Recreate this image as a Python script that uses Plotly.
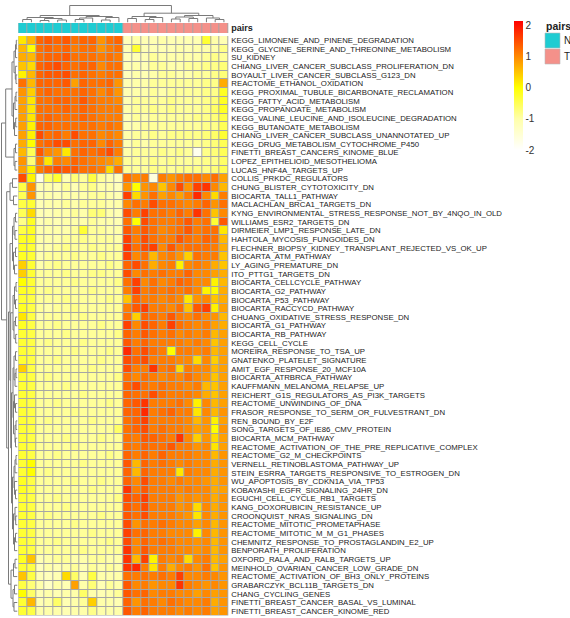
import plotly.graph_objects as go

W, H = 570, 618

pathways = [
    "KEGG_LIMONENE_AND_PINENE_DEGRADATION",
    "KEGG_GLYCINE_SERINE_AND_THREONINE_METABOLISM",
    "SU_KIDNEY",
    "CHIANG_LIVER_CANCER_SUBCLASS_PROLIFERATION_DN",
    "BOYAULT_LIVER_CANCER_SUBCLASS_G123_DN",
    "REACTOME_ETHANOL_OXIDATION",
    "KEGG_PROXIMAL_TUBULE_BICARBONATE_RECLAMATION",
    "KEGG_FATTY_ACID_METABOLISM",
    "KEGG_PROPANOATE_METABOLISM",
    "KEGG_VALINE_LEUCINE_AND_ISOLEUCINE_DEGRADATION",
    "KEGG_BUTANOATE_METABOLISM",
    "CHIANG_LIVER_CANCER_SUBCLASS_UNANNOTATED_UP",
    "KEGG_DRUG_METABOLISM_CYTOCHROME_P450",
    "FINETTI_BREAST_CANCERS_KINOME_BLUE",
    "LOPEZ_EPITHELIOID_MESOTHELIOMA",
    "LUCAS_HNF4A_TARGETS_UP",
    "COLLIS_PRKDC_REGULATORS",
    "CHUNG_BLISTER_CYTOTOXICITY_DN",
    "BIOCARTA_TALL1_PATHWAY",
    "MACLACHLAN_BRCA1_TARGETS_DN",
    "KYNG_ENVIRONMENTAL_STRESS_RESPONSE_NOT_BY_4NQO_IN_OLD",
    "WILLIAMS_ESR2_TARGETS_DN",
    "DIRMEIER_LMP1_RESPONSE_LATE_DN",
    "HAHTOLA_MYCOSIS_FUNGOIDES_DN",
    "FLECHNER_BIOPSY_KIDNEY_TRANSPLANT_REJECTED_VS_OK_UP",
    "BIOCARTA_ATM_PATHWAY",
    "LY_AGING_PREMATURE_DN",
    "ITO_PTTG1_TARGETS_DN",
    "BIOCARTA_CELLCYCLE_PATHWAY",
    "BIOCARTA_G2_PATHWAY",
    "BIOCARTA_P53_PATHWAY",
    "BIOCARTA_RACCYCD_PATHWAY",
    "CHUANG_OXIDATIVE_STRESS_RESPONSE_DN",
    "BIOCARTA_G1_PATHWAY",
    "BIOCARTA_RB_PATHWAY",
    "KEGG_CELL_CYCLE",
    "MOREIRA_RESPONSE_TO_TSA_UP",
    "GNATENKO_PLATELET_SIGNATURE",
    "AMIT_EGF_RESPONSE_20_MCF10A",
    "BIOCARTA_ATRBRCA_PATHWAY",
    "KAUFFMANN_MELANOMA_RELAPSE_UP",
    "REICHERT_G1S_REGULATORS_AS_PI3K_TARGETS",
    "REACTOME_UNWINDING_OF_DNA",
    "FRASOR_RESPONSE_TO_SERM_OR_FULVESTRANT_DN",
    "REN_BOUND_BY_E2F",
    "SONG_TARGETS_OF_IE86_CMV_PROTEIN",
    "BIOCARTA_MCM_PATHWAY",
    "REACTOME_ACTIVATION_OF_THE_PRE_REPLICATIVE_COMPLEX",
    "REACTOME_G2_M_CHECKPOINTS",
    "VERNELL_RETINOBLASTOMA_PATHWAY_UP",
    "STEIN_ESRRA_TARGETS_RESPONSIVE_TO_ESTROGEN_DN",
    "WU_APOPTOSIS_BY_CDKN1A_VIA_TP53",
    "KOBAYASHI_EGFR_SIGNALING_24HR_DN",
    "EGUCHI_CELL_CYCLE_RB1_TARGETS",
    "KANG_DOXORUBICIN_RESISTANCE_UP",
    "CROONQUIST_NRAS_SIGNALING_DN",
    "REACTOME_MITOTIC_PROMETAPHASE",
    "REACTOME_MITOTIC_M_M_G1_PHASES",
    "CHEMNITZ_RESPONSE_TO_PROSTAGLANDIN_E2_UP",
    "BENPORATH_PROLIFERATION",
    "OXFORD_RALA_AND_RALB_TARGETS_UP",
    "MEINHOLD_OVARIAN_CANCER_LOW_GRADE_DN",
    "REACTOME_ACTIVATION_OF_BH3_ONLY_PROTEINS",
    "GRABARCZYK_BCL11B_TARGETS_DN",
    "CHANG_CYCLING_GENES",
    "FINETTI_BREAST_CANCER_BASAL_VS_LUMINAL",
    "FINETTI_BREAST_CANCER_KINOME_RED",
]

samples = ["N%d" % i for i in range(1, 13)] + ["T%d" % i for i in range(1, 13)]
pairs = ["N"] * 12 + ["T"] * 12
pair_colors = {"N": "#1fccd2", "T": "#f4918a"}

# row-scaled scores, N samples (12 columns)
expr_N = [
    [0.2, 0.6, 1.3, 1.4, 1.3, 1.4, 1.2, 1.3, 1.3, 0.9, 1.2, 1.3],
    [0.6, 0.0, 1.2, 1.3, 1.2, 1.3, 1.1, 1.2, 1.2, 0.9, 1.1, 1.2],
    [0.7, 0.6, 1.2, 1.3, 1.3, 1.4, 1.2, 1.2, 1.2, 1.1, 1.2, 1.1],
    [0.5, 0.3, 1.3, 1.4, 1.5, 1.3, 1.2, 1.3, 1.3, 1.0, 1.2, 1.2],
    [0.1, 0.6, 1.3, 1.4, 1.4, 1.5, 1.2, 1.3, 1.2, 1.1, 1.2, 1.2],
    [1.2, 0.6, 1.3, 1.3, 1.3, 1.4, 0.8, 1.3, 1.2, 1.2, 1.3, 0.9],
    [0.9, 0.4, 1.2, 1.3, 1.2, 1.2, 1.2, 1.3, 1.2, 1.0, 1.2, 0.9],
    [0.8, 0.2, 1.2, 1.2, 1.3, 1.3, 1.2, 1.4, 1.2, 1.1, 1.1, 1.0],
    [0.8, 0.2, 1.2, 1.2, 1.2, 1.3, 1.2, 1.3, 1.2, 1.1, 1.1, 1.1],
    [0.8, 0.2, 1.2, 1.3, 1.2, 1.2, 1.2, 1.3, 1.2, 1.1, 1.1, 1.1],
    [0.8, 0.1, 1.3, 1.3, 1.2, 1.2, 1.2, 1.2, 1.2, 1.1, 1.2, 1.1],
    [0.8, 0.1, 1.5, 1.2, 1.3, 1.1, 1.5, 1.2, 1.2, 1.0, 1.1, 1.0],
    [0.7, 0.0, 1.2, 1.3, 1.5, 1.5, 1.2, 1.3, 1.3, 1.0, 1.3, 1.1],
    [0.6, -0.5, 1.4, 1.0, 0.9, 0.2, 1.2, 1.3, 1.2, 1.3, 1.5, 1.1],
    [0.9, -0.7, 1.1, 0.2, 1.1, 1.0, 1.3, 1.2, 1.1, 1.0, 0.9, 0.7],
    [0.8, 0.1, 1.1, 1.3, 1.5, 1.4, 1.4, 1.2, 1.2, 1.1, 0.3, 1.2],
    [1.5, 0.1, -1.7, -0.6, -0.3, -1.1, -0.7, -0.9, -0.4, -0.9, -1.0, -1.2],
    [-0.4, 0.9, -1.1, -1.0, -1.1, -0.9, -1.1, -0.9, -0.8, -1.0, -1.0, -1.2],
    [-0.5, 0.9, -1.1, -1.0, -1.1, -1.0, -1.0, -1.0, -0.9, -0.9, -1.0, -1.1],
    [-0.4, -0.3, -1.1, -1.0, -1.0, -0.9, -1.0, -0.9, -0.9, -0.9, -1.0, -1.0],
    [-0.5, 0.3, -1.1, -1.1, -1.0, -1.0, -0.9, -1.0, -0.7, -0.7, -1.0, -1.1],
    [-0.8, -0.2, -1.1, -1.0, -1.1, -1.0, -1.0, -1.0, -0.9, -1.0, -1.0, -1.1],
    [-0.4, -0.2, -1.0, -1.0, -1.0, -1.0, -0.9, -0.3, -0.9, -0.9, -1.0, -1.0],
    [-0.2, -0.2, -1.0, -1.0, -1.0, -0.9, -0.9, -0.8, -0.9, -0.9, -0.9, -1.0],
    [-0.2, -0.3, -1.0, -1.0, -0.9, -0.8, -0.9, -0.9, -0.8, -0.9, -0.9, -0.9],
    [-0.2, -0.3, -1.0, -0.9, -0.9, -0.9, -0.8, -0.9, -0.9, -0.8, -0.9, -0.9],
    [0.4, -0.3, -1.0, -0.9, -0.8, -0.9, -0.9, -0.9, -0.9, -0.9, -0.8, -0.9],
    [0.4, -0.3, -0.9, -0.9, -0.9, -0.8, -0.9, -0.9, -0.8, -0.8, -0.9, -0.9],
    [0.0, -0.3, -0.9, -0.9, -0.9, -0.9, -0.8, -0.9, -0.9, -0.9, -0.9, -0.8],
    [-0.2, -0.3, -0.9, -0.8, -0.9, -0.9, -0.9, -0.9, -0.8, -0.9, -0.9, -0.9],
    [-0.3, -0.4, -0.9, -0.9, -0.9, -0.8, -0.9, -0.9, -0.9, -0.9, -0.8, -0.9],
    [-0.2, -0.4, -0.9, -1.0, -0.9, -0.9, -0.8, -0.9, -0.9, -0.9, -0.9, -0.9],
    [0.2, -0.4, -1.0, -0.9, -0.9, -0.9, -0.9, -0.8, -0.9, -0.9, -0.9, -0.9],
    [-0.2, -0.4, -0.9, -0.9, -0.8, -0.9, -0.9, -0.9, -0.9, -0.8, -0.9, -0.9],
    [-0.3, -0.4, -0.9, -0.9, -0.9, -0.8, -0.9, -0.9, -0.9, -0.9, -0.9, -0.8],
    [-0.3, -0.4, -0.9, -0.8, -0.9, -0.9, -0.9, -0.8, -0.9, -0.9, -0.9, -0.9],
    [-0.3, -0.4, -0.9, -0.9, -0.9, -0.9, -0.8, -0.9, -0.9, -0.9, -0.8, -0.9],
    [-0.3, -0.4, -0.9, -0.9, -0.8, -0.9, -0.9, -0.9, -0.9, -0.8, -0.9, -0.9],
    [0.4, -0.4, -0.9, -0.9, -0.9, -0.9, -0.9, -0.9, -0.8, -0.9, -0.9, -0.9],
    [-0.3, -0.4, -0.9, -0.8, -0.9, -0.9, -0.9, -0.9, -0.9, -0.9, -0.9, -0.8],
    [-0.3, -0.4, -0.9, -0.9, -0.9, -0.8, -0.9, -0.9, -0.9, -0.9, -0.9, -0.9],
    [-0.3, -0.4, -0.9, -0.9, -0.9, -0.9, -0.9, -0.8, -0.9, -0.9, -0.9, -0.9],
    [-0.3, -0.4, -0.9, -0.9, -0.8, -0.9, -0.9, -0.9, -0.9, -0.9, -0.8, -0.9],
    [-0.3, -0.4, -0.9, -0.9, -0.9, -0.9, -0.8, -0.9, -0.9, -0.9, -0.9, -0.9],
    [-0.3, -0.4, -0.9, -0.8, -0.9, -0.9, -0.9, -0.9, -0.8, -0.9, -0.9, -0.9],
    [-0.3, -0.4, -0.9, -0.9, -0.9, -0.9, -0.9, -0.9, -0.9, -0.9, -0.9, -0.6],
    [-0.3, -0.4, -0.9, -0.9, -0.9, -0.8, -0.9, -0.9, -0.9, -0.8, -0.9, -0.9],
    [-0.3, -0.4, -0.9, -0.9, -0.9, -0.9, -0.8, -0.9, -0.9, -0.9, -0.9, -0.9],
    [-0.3, -0.4, -0.9, -0.9, -0.8, -0.9, -0.9, -0.9, -0.9, -0.9, -0.8, -0.9],
    [-0.3, 0.0, -0.9, -0.9, -0.9, -0.9, -0.9, -0.8, -0.9, -0.9, -0.9, -0.9],
    [-0.3, 0.0, -0.9, -0.8, -0.9, -0.9, -0.9, -0.9, -0.9, -0.9, -0.9, -0.9],
    [-0.2, -0.4, -0.9, -0.9, -0.9, -0.9, -0.8, -0.9, -0.9, -0.8, -0.9, -0.9],
    [-0.2, -0.4, -0.9, -0.9, -0.9, -0.9, -0.9, -0.9, -0.8, -0.9, -0.9, -0.9],
    [-0.3, -0.4, -0.9, -0.9, -0.8, -0.9, -0.9, -0.9, -0.9, -0.9, -0.9, -0.8],
    [-0.3, -0.4, -0.9, -0.9, -0.9, -0.8, -0.9, -0.9, -0.9, -0.9, -0.9, -0.9],
    [-0.3, -0.4, -0.9, -0.8, -0.9, -0.9, -0.9, -0.9, -0.9, -0.8, -0.9, -0.9],
    [-0.3, -0.4, -0.9, -0.9, -0.9, -0.9, -0.8, -0.9, -0.9, -0.9, -0.9, -0.9],
    [-0.3, -0.4, -0.9, -0.9, -0.9, -0.9, -0.9, -0.9, -0.8, -0.9, -0.9, -0.9],
    [-0.3, -0.4, -0.9, -0.9, -0.8, -0.9, -0.9, -0.9, -0.9, -0.9, -0.8, -0.9],
    [-0.3, -0.4, -0.9, -0.9, -0.9, -0.9, -0.9, -0.8, -0.9, -0.9, -0.9, -0.9],
    [-0.2, 0.5, -1.1, -1.0, -0.9, -0.9, -1.0, -1.0, -0.9, -0.9, -1.0, -1.0],
    [-0.3, -0.4, -1.2, -1.0, -1.1, -1.0, -0.9, -1.1, -0.9, -1.0, -0.9, -1.0],
    [0.5, -0.4, -1.1, -1.2, -1.1, 0.3, -0.6, -1.1, -0.4, -1.0, -1.0, -1.0],
    [-0.4, -0.7, -1.0, -1.3, -1.0, -1.1, 0.8, -1.0, -0.7, -1.1, -0.9, -1.0],
    [0.0, -0.6, -1.1, -1.0, -1.1, -1.0, -1.0, -0.6, -1.0, -1.1, -1.0, -0.9],
    [-0.3, 0.6, -1.1, -1.0, -0.6, -1.1, -1.0, -0.9, 0.4, -1.0, -1.0, -1.1],
    [-0.3, -0.4, -1.0, -1.0, -1.0, -1.1, -1.0, -1.0, -0.8, -1.0, -1.0, -1.0],
]

# row-scaled scores, T samples (12 columns)
expr_T = [
    [-1.2, -1.0, -1.1, -1.1, -1.0, -1.1, -1.1, -1.1, -1.1, -0.3, -1.0, -1.1],
    [-1.1, -0.3, -1.1, -1.1, -1.1, -1.1, -1.0, -1.1, -1.0, -1.0, -1.0, -0.8],
    [-1.2, -1.1, -1.1, -0.9, -1.0, -1.0, -1.0, -1.0, -1.0, -0.9, -0.8, -0.9],
    [-1.1, -1.0, -1.1, -0.9, -0.9, -1.0, -1.0, -0.9, -0.9, -0.8, -0.8, -0.7],
    [-1.2, -1.0, -1.1, -1.0, -0.9, -0.9, -1.0, -1.0, -0.9, -0.9, -0.8, -0.7],
    [-1.1, -1.0, -1.0, -0.9, -0.9, -0.9, -0.9, -0.9, -0.9, -0.8, -0.8, 0.7],
    [-1.1, -1.0, -1.0, -0.9, -1.0, -0.9, -0.9, -0.9, -0.9, -0.8, -0.8, -0.2],
    [-1.1, -0.9, -0.9, -0.9, -0.9, -0.8, -0.9, -0.9, -0.9, -0.8, -0.7, -0.2],
    [-1.0, -0.9, -0.9, -0.8, -0.9, -0.8, -0.9, -0.9, -0.9, -0.8, -0.6, -0.2],
    [-1.1, -0.9, -1.0, -0.9, -0.9, -0.9, -0.9, -0.9, -0.8, -0.8, -0.7, -0.4],
    [-1.1, -1.0, -0.9, -0.9, -0.9, -0.9, -0.9, -0.9, -0.9, -0.8, -0.8, -0.5],
    [-1.0, -0.9, -0.9, -0.8, -0.9, -0.8, -0.8, -0.8, -0.8, -0.7, -0.6, -0.3],
    [-1.1, -0.9, -1.0, -0.9, -0.9, -0.9, -0.9, -0.9, -0.9, -0.8, -0.7, -0.5],
    [-1.0, -0.9, -0.9, -0.9, -0.8, -0.9, -0.8, -0.9, -1.8, -0.8, -0.7, -0.5],
    [-0.9, -0.9, -0.9, -0.8, -0.9, -0.8, -0.9, -0.9, -0.9, -0.8, -0.8, -0.6],
    [-0.9, -0.9, -0.9, -0.8, -0.8, -0.9, -0.8, -0.8, -0.8, -0.8, -0.7, -0.5],
    [1.2, 1.0, 1.1, -1.6, 1.1, 0.9, 1.1, 1.2, 1.2, 1.0, 1.2, 0.8],
    [0.9, 0.0, 0.9, 1.0, 0.5, 1.0, 1.5, 0.9, 1.6, 1.7, 1.0, 0.6],
    [1.6, 0.3, 0.9, 1.2, 0.8, 1.0, 0.8, 1.1, 1.8, 1.0, 0.3, 1.1],
    [1.0, 1.2, 1.1, 1.5, 1.2, 1.2, 1.1, 1.0, 1.1, 1.3, 0.9, 1.2],
    [1.5, 1.1, 1.6, 1.2, 1.2, 1.1, 1.3, 1.1, 1.7, 1.2, 0.5, 1.0],
    [1.2, 0.0, 1.5, 1.2, 1.1, 1.1, 1.2, 1.4, 1.1, 1.2, -0.3, 1.4],
    [1.4, 1.1, 1.4, 1.2, 1.0, 1.1, 1.2, 1.4, 1.1, 1.2, 1.2, 0.2],
    [1.6, 1.1, 1.5, 1.2, 1.1, 1.1, 1.4, 1.2, 1.1, 1.3, 1.2, 0.6],
    [1.7, 1.2, 1.5, 1.6, 1.0, 1.4, 1.1, 1.2, 1.2, 1.2, 1.1, 0.7],
    [1.6, 1.0, 1.2, 0.6, 1.0, 1.1, 0.9, 0.4, 1.2, 1.1, 1.1, 0.5],
    [1.3, 1.5, 1.2, 0.7, 1.0, 1.1, 0.1, 1.0, 1.1, 1.0, 0.7, 0.5],
    [1.5, 1.0, 1.2, 1.1, 1.2, 1.1, 1.1, 1.3, 1.0, 1.0, 0.8, 0.7],
    [1.2, 1.6, 1.0, 1.2, 1.0, 1.1, 1.3, 1.2, 1.0, 1.0, 0.1, 0.6],
    [1.1, 1.6, 1.1, 1.2, 1.1, 1.2, 1.1, 1.2, 1.0, 0.1, 0.0, 0.7],
    [0.5, 1.3, 1.1, 1.1, 1.0, 1.1, 1.0, 0.2, 0.9, 1.0, 0.5, 0.7],
    [1.1, 1.4, 1.6, 1.1, 1.1, 1.0, 1.2, 0.5, 1.4, 1.6, 0.1, 0.8],
    [1.2, 0.4, 1.3, 1.2, 1.1, 1.4, 1.1, 1.0, 1.2, 1.0, 0.9, 0.6],
    [1.6, 1.0, 1.5, 1.3, 1.1, 1.6, 1.2, 1.1, 1.0, 1.1, 0.8, 0.7],
    [1.3, 1.1, 1.4, 1.2, 1.1, 1.2, 1.0, 1.1, 1.0, 1.1, 0.6, 0.8],
    [1.4, 1.1, 1.3, 1.1, 1.1, 1.1, 1.1, 1.0, 1.1, 1.0, 0.5, 0.8],
    [1.8, 1.2, 1.5, 1.2, 1.1, 0.0, 1.1, 1.1, 1.0, 1.1, 0.6, 0.8],
    [1.5, 1.3, 1.5, 1.1, 1.1, 1.1, 1.0, 1.0, 0.3, 1.0, 0.4, 0.8],
    [1.5, 1.1, 1.1, 1.7, 1.1, 1.2, 0.3, 1.1, 1.0, 1.0, 0.6, 0.8],
    [1.2, 1.0, 1.2, 1.1, 1.0, 1.1, 1.0, 1.2, 1.0, 0.9, 0.5, 0.8],
    [1.3, 1.5, 1.2, 1.1, 1.2, 1.1, 1.1, 1.0, 1.1, 0.6, 0.5, 0.8],
    [1.3, 1.2, 1.2, 1.5, 1.2, 1.1, 1.1, 1.1, 1.0, 0.7, 0.5, 0.8],
    [1.3, 1.4, 1.7, 1.1, 1.1, 1.1, 1.2, 1.0, 0.1, 1.0, 0.6, 0.8],
    [1.3, 1.3, 1.8, 1.1, 1.2, 1.3, 1.1, 1.1, 0.2, 1.0, 0.6, 0.9],
    [1.2, 1.3, 1.6, 1.1, 1.1, 1.1, 1.1, 1.0, 0.6, 0.9, 0.1, 0.8],
    [1.2, 1.3, 1.5, 1.1, 1.2, 1.1, 1.1, 1.0, 0.8, 0.9, 0.0, 0.9],
    [1.2, 1.1, 1.4, 1.3, 1.2, 1.1, 1.7, 1.0, 0.4, 0.9, 0.3, 0.8],
    [1.2, 1.1, 1.3, 1.2, 1.2, 1.4, 1.1, 1.1, 0.9, 1.0, 0.2, 0.8],
    [1.3, 1.1, 1.3, 1.1, 1.3, 1.1, 1.1, 1.1, 1.0, 1.0, 0.6, 0.9],
    [1.4, 0.6, 1.3, 1.1, 1.2, 1.1, 1.0, 1.1, 1.0, 1.0, 0.7, 0.9],
    [1.3, 0.6, 1.3, 1.1, 1.1, 1.1, 0.2, 1.1, 1.0, 1.0, 0.7, 0.9],
    [1.3, 1.0, 1.5, 1.1, 1.1, 1.0, 1.1, 1.0, 1.0, 0.9, 0.7, 0.9],
    [1.7, 1.1, 1.4, 1.1, 1.1, 1.1, 1.0, 1.1, 1.0, 1.0, 0.7, 0.8],
    [1.5, 1.3, 1.6, 1.1, 1.1, 1.1, 0.9, 1.0, 0.9, 1.0, 0.7, 0.9],
    [1.4, 1.2, 1.5, 1.1, 1.1, 1.1, 0.9, 1.0, 0.3, 1.0, 0.7, 0.9],
    [1.4, 1.2, 1.5, 1.1, 1.1, 1.1, 1.0, 0.9, 0.2, 1.0, 0.7, 0.9],
    [1.5, 0.9, 1.2, 1.1, 1.2, 1.1, 1.0, 1.0, 0.8, 1.0, 0.6, 0.9],
    [1.6, 1.2, 1.3, 1.1, 1.1, 1.0, 1.0, 1.0, 0.1, 1.0, 0.6, 0.9],
    [1.5, 1.0, 1.3, 1.1, 1.2, 1.1, 1.0, 1.0, 0.9, 1.0, 0.6, 0.9],
    [1.7, 1.0, 1.4, 1.1, 1.1, 1.1, 1.0, 1.0, 0.9, 1.0, 0.6, 0.9],
    [1.7, 0.6, 1.6, 0.1, 1.1, 1.0, 1.1, 0.3, 1.0, 1.1, 0.6, 0.8],
    [1.7, 1.8, 1.1, 0.2, 1.1, 0.7, 1.0, 1.1, 0.9, 1.2, 0.5, 0.9],
    [1.2, 1.1, 1.2, 1.1, 1.2, 1.1, 1.6, 1.0, 1.0, 1.1, 1.0, 0.9],
    [1.4, 1.0, 1.1, 0.9, 1.0, 1.0, 1.7, 1.1, 1.0, 0.9, 1.0, 0.9],
    [1.4, 1.2, 1.3, 1.0, 1.1, 1.1, 1.0, 1.0, 0.8, 1.0, 0.8, 0.9],
    [1.3, 0.9, 1.2, 1.1, 1.0, 1.2, 1.1, 1.0, 1.0, 1.1, 0.7, 0.9],
    [1.4, 1.1, 1.3, 1.1, 1.1, 1.1, 1.0, 1.1, 1.0, 1.1, 0.8, 0.9],
]

# dendrogram structures: leaf = index, node = (merge height, left, right)
col_tree = (17.0,
            (7.0,
             (5.0, (3.0, 0, 1), (4.0, (2.0, 2, 3), (2.5, 4, 5))),
             (6.0, (4.5, (3.0, 6, 7), 8), (5.0, (2.5, 9, 10), 11))),
            (9.3,
             (6.0, (4.0, 12, 13), (5.0, (3.0, 14, 15), 16)),
             (7.0, (5.5, (3.5, 17, 18), (4.0, 19, 20)), (4.5, 21, (3.0, 22, 23)))))

row_tree = (16.0,
            (11.8,
             (5.5,
              (3.5, (2.0, (1.2, 0, 1), 2), (2.2, 3, (1.5, 4, 5))),
              (4.0, (2.5, (1.5, 6, 7), 8), (3.0, (1.8, 9, 10), 11))),
             (3.5, (2.0, 12, 13), (2.5, 14, 15))),
            (10.8,
             (7.5, (5.0, 16, 17), (4.0, 18, 19)),
             (9.0,
              (7.5,
               (5.0, (3.5, (2.0, 20, 21), (2.5, 22, 23)), (4.0, (2.0, 24, 25), (3.0, 26, 27))),
               (6.8,
                (4.5, (3.0, (1.5, 28, 29), (2.0, 30, 31)), (3.5, (2.0, 32, 33), (1.8, 34, 35))),
                (6.0,
                 (4.5, (3.5, (2.0, 36, 37), (2.5, (1.5, 38, 39), 40)),
                  (4.0, (3.0, 41, (2.0, 42, 43)), (2.5, (1.5, 44, 45), (2.0, 46, 47)))),
                 (5.0, (3.5, (2.5, (1.5, 48, 49), 50), (3.0, 51, (2.0, 52, 53))),
                  (4.0, (2.5, 54, (1.8, 55, 56)), (3.0, (2.0, 57, 58), 59)))))),
              (6.5, (4.0, (2.5, 60, 61), 62), (4.5, (3.0, 63, 64), (3.5, 65, 66))))))


def dendro_segments(node):
    xs, hs = [], []

    def rec(n):
        if isinstance(n, int):
            return float(n), 0.0
        h, a, b = n
        pa, ha = rec(a)
        pb, hb = rec(b)
        xs.extend([pa, pa, pb, pb, None])
        hs.extend([ha, h, h, hb, None])
        return (pa + pb) / 2.0, h

    rec(node)
    return xs, hs


def px_x(p):
    return p / W


def px_y(p):
    return 1 - p / H


z = [n + t for n, t in zip(expr_N, expr_T)]
nrow, ncol = len(pathways), len(samples)

# geometry (pixels)
hm_x0, hm_x1 = 18.3, 228.3
hm_y0, hm_y1 = 36.0, 615.5
ann_y0, ann_y1 = 23.0, 33.0

zmin, zmax = -2.0, 2.13


def frac(v):
    return (v - zmin) / (zmax - zmin)


colorscale = [[0.0, "#ffffff"], [frac(-1.0), "#ffffaa"], [frac(0.0), "#ffff00"],
              [frac(1.0), "#ff8800"], [1.0, "#ff0000"]]

fig = go.Figure()

fig.add_trace(go.Heatmap(
    z=z, x=list(range(ncol)), y=list(range(nrow)),
    zmin=zmin, zmax=zmax, colorscale=colorscale,
    xgap=1, ygap=1, xaxis="x", yaxis="y",
    hovertemplate="%{text}<extra></extra>",
    text=[[f"{pathways[i]} / {samples[j]}: {z[i][j]}" for j in range(ncol)] for i in range(nrow)],
    colorbar=dict(
        x=px_x(514), xanchor="left", y=px_y(21), yanchor="top",
        thickness=9, thicknessmode="pixels", len=129, lenmode="pixels",
        xpad=0, ypad=0, outlinewidth=0, ticks="",
        tickvals=[-2, -1, 0, 1, 2], ticktext=["-2", "-1", "0", "1", "2"],
        tickfont=dict(family="Arial", size=10, color="#333333"),
    ),
))

pair_idx = [[0 if p == "N" else 1 for p in pairs]]
fig.add_trace(go.Heatmap(
    z=pair_idx, x=list(range(ncol)), y=[0],
    colorscale=[[0, pair_colors["N"]], [0.5, pair_colors["N"]], [0.5, pair_colors["T"]], [1, pair_colors["T"]]],
    zmin=0, zmax=1, showscale=False, xgap=1, ygap=0,
    xaxis="x2", yaxis="y2", hoverinfo="skip",
))

cx, ch = dendro_segments(col_tree)
fig.add_trace(go.Scatter(x=cx, y=ch, mode="lines", line=dict(color="#7a7a7a", width=1),
                         xaxis="x3", yaxis="y3", hoverinfo="skip", showlegend=False))
rx, rh = dendro_segments(row_tree)
fig.add_trace(go.Scatter(x=rh, y=rx, mode="lines", line=dict(color="#7a7a7a", width=1),
                         xaxis="x4", yaxis="y4", hoverinfo="skip", showlegend=False))

hidden = dict(showticklabels=False, showgrid=False, zeroline=False, showline=False, ticks="", fixedrange=True)
hm_xdom = [px_x(hm_x0), px_x(hm_x1)]
hm_ydom = [px_y(hm_y1), px_y(hm_y0)]

fig.update_layout(
    width=W, height=H, margin=dict(l=0, r=0, t=0, b=0),
    paper_bgcolor="white", plot_bgcolor="white", showlegend=False,
    xaxis=dict(domain=hm_xdom, range=[-0.5, ncol - 0.5], **hidden),
    yaxis=dict(domain=hm_ydom, range=[nrow - 0.5, -0.5], side="right",
               tickvals=list(range(nrow)), ticktext=pathways, showticklabels=True,
               tickfont=dict(family="Arial", size=7.8, color="#222222"), ticklabelstandoff=2,
               showgrid=False, zeroline=False, showline=False, ticks="", fixedrange=True),
    xaxis2=dict(domain=hm_xdom, range=[-0.5, ncol - 0.5], anchor="y2", **hidden),
    yaxis2=dict(domain=[px_y(ann_y1), px_y(ann_y0)], range=[-0.5, 0.5], anchor="x2", side="right",
                tickvals=[0], ticktext=["<b>pairs</b>"], showticklabels=True,
                tickfont=dict(family="Arial", size=9, color="#222222"), ticklabelstandoff=2,
                showgrid=False, zeroline=False, showline=False, ticks="", fixedrange=True),
    xaxis3=dict(domain=hm_xdom, range=[-0.5, ncol - 0.5], anchor="y3", **hidden),
    yaxis3=dict(domain=[px_y(22.5), px_y(2.5)], range=[0, 20], anchor="x3", **hidden),
    xaxis4=dict(domain=[0, px_x(17.5)], range=[17.5, 0], anchor="y4", **hidden),
    yaxis4=dict(domain=hm_ydom, range=[nrow - 0.5, -0.5], anchor="x4", **hidden),
)

# grey cell borders behind heatmap gaps
fig.add_shape(type="rect", xref="x domain", yref="y domain", x0=0, x1=1, y0=0, y1=1,
              fillcolor="#a6a6a6", line=dict(width=0), layer="below")
fig.add_shape(type="rect", xref="x2 domain", yref="y2 domain", x0=0, x1=1, y0=0, y1=1,
              fillcolor="#a6a6a6", line=dict(width=0), layer="below")

# annotation legend (pairs)
fig.add_annotation(x=px_x(544), y=px_y(26), xref="paper", yref="paper", text="<b>pairs</b>",
                   showarrow=False, xanchor="left", yanchor="middle",
                   font=dict(family="Arial", size=10.5, color="#222222"))
for k, lev in enumerate(["N", "T"]):
    top = 33 + k * 16
    fig.add_shape(type="rect", xref="paper", yref="paper",
                  x0=px_x(545), x1=px_x(560), y0=px_y(top + 15), y1=px_y(top),
                  fillcolor=pair_colors[lev], line=dict(color="#bbbbbb", width=0.6))
    fig.add_annotation(x=px_x(562), y=px_y(top + 7.5), xref="paper", yref="paper", text=lev,
                       showarrow=False, xanchor="left", yanchor="middle",
                       font=dict(family="Arial", size=10, color="#222222"))

fig.write_html(
    "out.html",
    config={"displayModeBar": False, "staticPlot": False},
    post_script="document.body.style.margin='0';document.body.style.padding='0';"
                "document.documentElement.style.overflow='hidden';",
)
